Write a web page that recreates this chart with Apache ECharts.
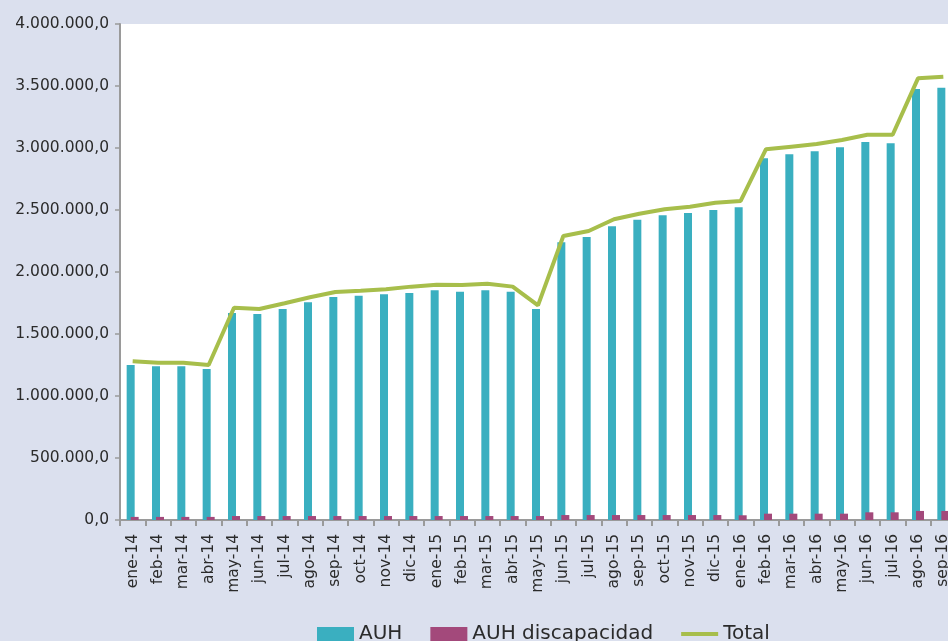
<!DOCTYPE html>
<html>
<head>
<meta charset="utf-8">
<title>AUH</title>
<script src="https://cdn.jsdelivr.net/npm/echarts@6/dist/echarts.min.js"></script>
<style>
  html, body { margin: 0; padding: 0; background: #dbe0ee; }
  #chart { width: 948px; height: 641px; }
</style>
</head>
<body>
<div id="chart"></div>
<script>
// meses
var months = ['ene-14','feb-14','mar-14','abr-14','may-14','jun-14','jul-14','ago-14','sep-14','oct-14','nov-14','dic-14',
  'ene-15','feb-15','mar-15','abr-15','may-15','jun-15','jul-15','ago-15','sep-15','oct-15','nov-15','dic-15',
  'ene-16','feb-16','mar-16','abr-16','may-16','jun-16','jul-16','ago-16','sep-16'];

// AUH
var auh = [1250000,1240000,1240000,1218000,1669000,1661000,1702000,1756000,1798000,1809000,1820000,1831000,
  1852000,1841000,1852000,1841000,1702000,2240000,2282000,2369000,2422000,2457000,2476000,2500000,
  2522000,2917000,2949000,2973000,3006000,3048000,3038000,3476000,3486000];

// AUH discapacidad
var auhDisc = [25000,25000,25000,25000,32000,32000,32000,32000,32000,32000,32000,32000,
  32000,32000,32000,32000,32000,40000,40000,40000,40000,40000,40000,40000,
  38000,51000,51000,51000,51000,62000,62000,73000,73000];

// Total
var total = [1280000,1268000,1268000,1250000,1712000,1702000,1748000,1796000,1839000,1849000,1860000,1882000,
  1898000,1895000,1906000,1882000,1731000,2290000,2331000,2425000,2470000,2506000,2527000,2559000,
  2573000,2990000,3011000,3032000,3065000,3107000,3107000,3562000,3575000];

var yTicks = [0, 500000, 4000000]; // min, paso, max

var fontFamily = 'DejaVu Sans';
var textColor = '#2b2b2b';

// 4000000 -> 4.000.000,0
function fmt(v) {
  var s = String(Math.round(v));
  return s.replace(/\B(?=(\d{3})+(?!\d))/g, '.') + ',0';
}

var myChart = echarts.init(document.getElementById('chart'));
var option = {
  backgroundColor: '#dbe0ee',
  animation: false,
  textStyle: { fontFamily: fontFamily, color: textColor },
  grid: {
    left: 120,
    top: 24,
    width: 836,
    height: 496,
    show: true,
    backgroundColor: '#ffffff',
    borderWidth: 0,
    containLabel: false,
    outerBoundsMode: 'none'
  },
  legend: {
    data: [
      { name: 'AUH', icon: 'rect' },
      { name: 'AUH discapacidad', icon: 'rect' },
      { name: 'Total', icon: 'path://M0,0 L37,0 L37,4 L0,4 Z' }
    ],
    left: 312,
    top: 619,
    itemWidth: 37,
    itemHeight: 14,
    itemGap: 28,
    symbolKeepAspect: true,
    textStyle: { fontFamily: fontFamily, fontSize: 20, color: textColor }
  },
  xAxis: {
    type: 'category',
    data: months,
    axisLine: { lineStyle: { color: '#9a9a9a', width: 2 } },
    axisTick: { show: true, length: 6, lineStyle: { color: '#9a9a9a', width: 2 } },
    axisLabel: {
      rotate: 90,
      interval: 0,
      margin: 14,
      fontSize: 15.5,
      fontFamily: fontFamily,
      color: textColor
    },
    splitLine: { show: false }
  },
  yAxis: {
    type: 'value',
    min: yTicks[0],
    max: yTicks[2],
    interval: yTicks[1],
    axisLine: { show: true, lineStyle: { color: '#9a9a9a', width: 2 } },
    axisTick: { show: true, length: 5, lineStyle: { color: '#9a9a9a', width: 1.5 } },
    axisLabel: {
      margin: 11,
      fontSize: 15.5,
      fontFamily: fontFamily,
      color: textColor,
      formatter: fmt
    },
    splitLine: { show: false }
  },
  series: [
    {
      name: 'AUH',
      type: 'bar',
      barWidth: 8,
      barGap: '-50%',
      itemStyle: { color: '#3aafc0' },
      data: auh
    },
    {
      name: 'AUH discapacidad',
      type: 'bar',
      barWidth: 8,
      itemStyle: { color: '#a3497b' },
      data: auhDisc
    },
    {
      name: 'Total',
      type: 'line',
      symbol: 'none',
      showSymbol: false,
      lineStyle: { color: '#a7be4b', width: 4 },
      itemStyle: { color: '#a7be4b' },
      data: total,
      z: 5
    }
  ]
};
myChart.setOption(option);
</script>
</body>
</html>
